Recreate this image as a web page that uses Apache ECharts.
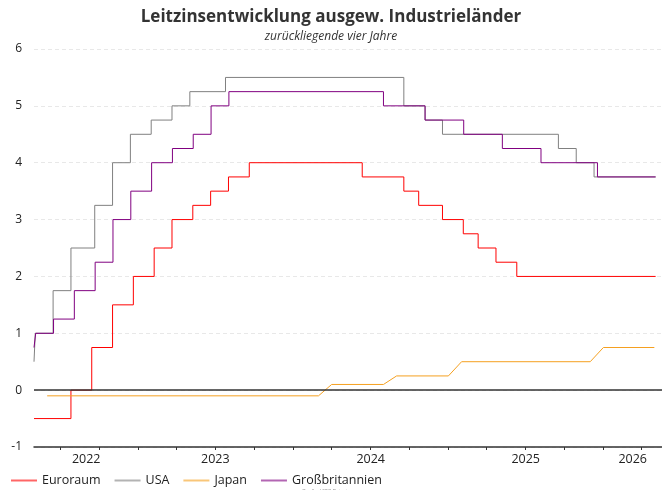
<!DOCTYPE html>
<html>
<head>
<meta charset="utf-8">
<script src="https://cdn.jsdelivr.net/npm/echarts@6/dist/echarts.min.js"></script>
<style>
  html, body { margin: 0; padding: 0; background: #fff; }
  #chart { width: 662px; height: 490px; }
</style>
</head>
<body>
<div id="chart"></div>
<script>
// Zinswechsel: Datum der Änderung und neuer Satz (%)
const euroDates = ['2022-05-01', '2022-07-27', '2022-09-14', '2022-11-02', '2022-12-21', '2023-02-08', '2023-03-22', '2023-05-10', '2023-06-21', '2023-08-02', '2023-09-20', '2024-06-12', '2024-09-18', '2024-10-23', '2024-12-18', '2025-02-05', '2025-03-12', '2025-04-23', '2025-06-11', '2026-05-04']
const euroValues = [-0.5, 0, 0.75, 1.5, 2.0, 2.5, 3.0, 3.25, 3.5, 3.75, 4.0, 3.75, 3.5, 3.25, 3.0, 2.75, 2.5, 2.25, 2.0, 2.0]

const usaDates = ['2022-05-01', '2022-05-04', '2022-06-15', '2022-07-27', '2022-09-21', '2022-11-02', '2022-12-14', '2023-02-01', '2023-03-22', '2023-05-03', '2023-07-26', '2024-09-18', '2024-11-07', '2024-12-18', '2025-09-17', '2025-10-29', '2025-12-10', '2026-05-04']
const usaValues = [0.5, 1.0, 1.75, 2.5, 3.25, 4.0, 4.5, 4.75, 5.0, 5.25, 5.5, 5.0, 4.75, 4.5, 4.25, 4.0, 3.75, 3.75]

const japanDates = ['2022-06-01', '2024-03-01', '2024-04-01', '2024-08-01', '2024-09-01', '2025-01-01', '2025-02-01', '2025-12-01', '2026-01-01', '2026-05-01']
const japanValues = [-0.1, -0.1, 0.1, 0.1, 0.25, 0.25, 0.5, 0.5, 0.75, 0.75]

const ukDates = ['2022-05-01', '2022-05-05', '2022-06-16', '2022-08-04', '2022-09-22', '2022-11-03', '2022-12-15', '2023-02-02', '2023-03-23', '2023-05-11', '2023-06-22', '2023-08-03', '2024-08-01', '2024-11-07', '2025-02-06', '2025-05-08', '2025-08-07', '2025-12-18', '2026-05-04']
const ukValues = [0.75, 1.0, 1.25, 1.75, 2.25, 3.0, 3.5, 4.0, 4.25, 4.5, 5.0, 5.25, 5.0, 4.75, 4.5, 4.25, 4.0, 3.75, 3.75]

// Achse
const yearLabels = ['2022', '2023', '2024', '2025', '2026']
const yearLabelDates = ['2022-09-01', '2023-07-02', '2024-07-02', '2025-07-02', '2026-03-11']
const quarterTicks = ['2022-07-01', '2022-10-01', '2023-01-01', '2023-04-01', '2023-07-01', '2023-10-01', '2024-01-01', '2024-04-01', '2024-07-01', '2024-10-01', '2025-01-01', '2025-04-01', '2025-07-01', '2025-10-01', '2026-01-01', '2026-04-01']

const ts = d => new Date(d + 'T00:00:00Z').getTime()
const pairs = (dates, values) => dates.map((d, i) => [ts(d), values[i]])
const labelStamps = yearLabelDates.map(ts)

const font = 'Open Sans'
const chart = echarts.init(document.getElementById('chart'))

const lineSeries = (name, color, dates, values, step) => ({
  name: name,
  type: 'line',
  step: step,
  showSymbol: false,
  symbol: 'none',
  data: pairs(dates, values),
  lineStyle: { width: 1, color: color },
  itemStyle: { color: color },
  emphasis: { disabled: true }
})

const series = [
  lineSeries('Euroraum', '#ff0000', euroDates, euroValues, 'end'),
  lineSeries('USA', '#808080', usaDates, usaValues, 'end'),
  lineSeries('Japan', '#f5a020', japanDates, japanValues, false),
  lineSeries('Großbritannien', '#800080', ukDates, ukValues, 'end')
]
// Nulllinie
series[0].markLine = {
  silent: true,
  symbol: 'none',
  label: { show: false },
  lineStyle: { color: '#333', width: 1.5, type: 'solid' },
  data: [{ yAxis: 0 }]
}

chart.setOption({
  animation: false,
  textStyle: { fontFamily: font },
  title: [
    {
      text: 'Leitzinsentwicklung ausgew. Industrieländer',
      subtext: 'zurückliegende vier Jahre',
      left: 'center',
      top: 4,
      itemGap: 5,
      textStyle: { fontFamily: font, fontSize: 17, fontWeight: 'bold', color: '#333' },
      subtextStyle: { fontFamily: font, fontSize: 12, fontStyle: 'italic', color: '#333' }
    },
    {
      text: 'Quelle: LSEG Datastream',
      left: 'center',
      top: 484,
      textStyle: { fontFamily: font, fontSize: 5, fontWeight: 'normal', color: '#888' }
    }
  ],
  legend: {
    left: 6,
    top: 469,
    icon: 'rect',
    itemWidth: 26,
    itemHeight: 2,
    itemGap: 14,
    textStyle: { fontFamily: font, fontSize: 12.5, color: '#222' },
    data: series.map(s => ({ name: s.name, itemStyle: { opacity: 0.6 } }))
  },
  grid: { left: 34, right: 0, top: 49, bottom: 43, outerBoundsMode: 'none', containLabel: false },
  xAxis: {
    type: 'value',
    min: ts('2022-05-01'),
    max: ts('2026-05-19'),
    axisLine: { onZero: false, lineStyle: { color: '#333', width: 1.5 } },
    axisTick: {
      show: true,
      length: 3,
      lineStyle: { color: '#333' },
      customValues: quarterTicks.map(ts)
    },
    axisLabel: {
      fontFamily: font,
      fontSize: 12.5,
      color: '#222',
      margin: 6,
      customValues: labelStamps,
      formatter: v => yearLabels[labelStamps.indexOf(v)] || ''
    },
    splitLine: { show: false }
  },
  yAxis: {
    type: 'value',
    min: -1,
    max: 6,
    interval: 1,
    name: '%',
    nameLocation: 'middle',
    nameGap: 20,
    nameRotate: 90,
    nameTextStyle: { fontFamily: font, fontSize: 12, color: '#222' },
    axisLine: { show: false },
    axisTick: { show: false },
    axisLabel: { fontFamily: font, fontSize: 12, color: '#222', margin: 12 },
    splitLine: { lineStyle: { color: '#e8e8e8', type: [4, 3] } }
  },
  series: series
})
</script>
</body>
</html>
